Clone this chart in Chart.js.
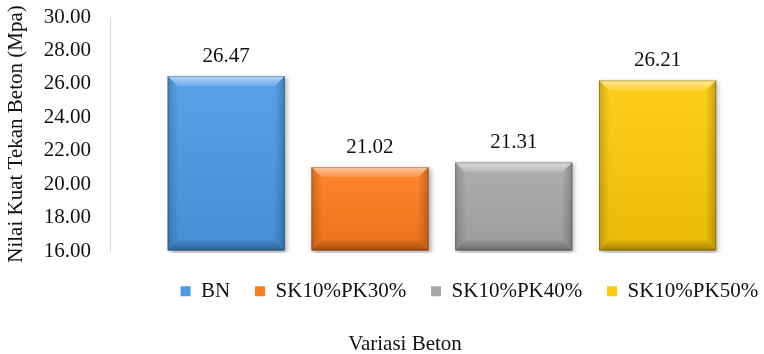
<!DOCTYPE html>
<html>
<head>
<meta charset="utf-8">
<script src="https://cdn.jsdelivr.net/npm/chart.js@4/dist/chart.umd.min.js"></script>
<style>
  html, body { margin: 0; padding: 0; background: #ffffff; }
  #wrap { width: 764px; height: 354px; position: relative; }
</style>
</head>
<body>
<div id="wrap"><canvas id="chart"></canvas></div>
<script>
// Compressive strength per concrete mix (MPa)
const categories = ['BN', 'SK10%PK30%', 'SK10%PK40%', 'SK10%PK50%'];
const strengths = [26.47, 21.02, 21.31, 26.21];
const yTickValues = [16, 18, 20, 22, 24, 26, 28, 30];
const yTitle = 'Nilai Kuat Tekan Beton (Mpa)';
const xTitle = 'Variasi Beton';

const palette = ['#4a9be6', '#ff7b1c', '#a8a8a8', '#ffca08'];
const FONT = 'Liberation Serif';
const TEXT = '#111111';
const Y_MIN = yTickValues[0];
const Y_MAX = yTickValues[yTickValues.length - 1];

// one dataset per mix so each gets its own legend entry
const datasets = categories.map((name, i) => ({
  label: name,
  data: [{ x: i, y: strengths[i] }],
  backgroundColor: palette[i],
  borderWidth: 0,
  base: Y_MIN,
  clip: { left: false, top: false, right: false, bottom: 2 }
}));

// bevelled bar faces with a soft drop shadow
const bevelBars = {
  id: 'bevelBars',
  beforeDatasetDraw(chart) {
    const ctx = chart.ctx;
    ctx.save();
    ctx.shadowColor = 'rgba(0,0,0,0.35)';
    ctx.shadowBlur = 5;
    ctx.shadowOffsetX = 2;
    ctx.shadowOffsetY = 2;
  },
  afterDatasetDraw(chart, args) {
    const ctx = chart.ctx;
    ctx.restore();
    const poly = (pts, fill) => {
      ctx.beginPath();
      ctx.moveTo(pts[0][0], pts[0][1]);
      for (let k = 1; k < pts.length; k++) ctx.lineTo(pts[k][0], pts[k][1]);
      ctx.closePath();
      ctx.fillStyle = fill;
      ctx.fill();
    };
    args.meta.data.forEach(bar => {
      const p = bar.getProps(['x', 'y', 'base', 'width'], true);
      const l = p.x - p.width / 2, r = p.x + p.width / 2;
      const t = Math.min(p.y, p.base), b = Math.max(p.y, p.base);
      const d = 10;
      ctx.save();
      const body = ctx.createLinearGradient(0, t, 0, b);
      body.addColorStop(0, 'rgba(255,255,255,0.08)');
      body.addColorStop(1, 'rgba(0,0,0,0.08)');
      ctx.fillStyle = body;
      ctx.fillRect(l, t, r - l, b - t);

      const top = ctx.createLinearGradient(0, t, 0, t + d);
      top.addColorStop(0, 'rgba(255,255,255,0.55)');
      top.addColorStop(1, 'rgba(255,255,255,0.12)');
      poly([[l, t], [r, t], [r - d, t + d], [l + d, t + d]], top);

      const bot = ctx.createLinearGradient(0, b - d, 0, b);
      bot.addColorStop(0, 'rgba(0,0,0,0.06)');
      bot.addColorStop(1, 'rgba(0,0,0,0.30)');
      poly([[l, b], [r, b], [r - d, b - d], [l + d, b - d]], bot);

      const left = ctx.createLinearGradient(l, 0, l + d, 0);
      left.addColorStop(0, 'rgba(0,0,0,0.18)');
      left.addColorStop(1, 'rgba(0,0,0,0.02)');
      poly([[l, t], [l + d, t + d], [l + d, b - d], [l, b]], left);

      const right = ctx.createLinearGradient(r - d, 0, r, 0);
      right.addColorStop(0, 'rgba(0,0,0,0.02)');
      right.addColorStop(1, 'rgba(0,0,0,0.22)');
      poly([[r, t], [r - d, t + d], [r - d, b - d], [r, b]], right);

      ctx.strokeStyle = 'rgba(0,0,0,0.25)';
      ctx.lineWidth = 1;
      ctx.strokeRect(l + 0.5, t + 0.5, r - l - 1, b - t - 1);
      ctx.restore();
    });
  }
};

// value printed above each bar
const valueLabels = {
  id: 'valueLabels',
  afterDatasetsDraw(chart) {
    const ctx = chart.ctx;
    ctx.save();
    ctx.font = '21px "' + FONT + '"';
    ctx.fillStyle = TEXT;
    ctx.textAlign = 'center';
    ctx.textBaseline = 'middle';
    chart.data.datasets.forEach((ds, i) => {
      const meta = chart.getDatasetMeta(i);
      meta.data.forEach((bar, j) => {
        ctx.fillText(ds.data[j].y.toFixed(2), bar.x, bar.y - 20);
      });
    });
    ctx.restore();
  }
};

new Chart(document.getElementById('chart'), {
  type: 'bar',
  data: { datasets },
  plugins: [bevelBars, valueLabels],
  options: {
    responsive: true,
    maintainAspectRatio: false,
    animation: false,
    grouped: false,
    categoryPercentage: 1,
    barPercentage: 0.815,
    layout: { padding: { top: 17, left: 0, right: -19, bottom: 0 } },
    scales: {
      x: {
        type: 'linear',
        min: -0.808,
        max: 3.295,
        offset: false,
        weight: 1500,
        grid: { display: false, drawTicks: false },
        border: { display: false },
        ticks: { display: false, stepSize: 1, includeBounds: false },
        title: {
          display: true,
          text: xTitle,
          color: TEXT,
          font: { family: FONT, size: 21 },
          padding: { top: 20, bottom: -3 }
        }
      },
      y: {
        min: Y_MIN,
        max: Y_MAX,
        afterBuildTicks(scale) { scale.ticks = yTickValues.map(v => ({ value: v })); },
        afterFit(scale) { scale.width = 110; },
        grid: {
          display: true,
          drawOnChartArea: false,
          drawTicks: true,
          tickLength: 17,
          color: 'rgba(0,0,0,0)'
        },
        border: { display: true, color: '#d9d9d9', width: 1 },
        ticks: {
          padding: 2,
          color: TEXT,
          font: { family: FONT, size: 21 },
          callback: v => Number(v).toFixed(2)
        },
        title: {
          display: true,
          text: yTitle,
          color: TEXT,
          font: { family: FONT, size: 21 },
          padding: { top: 4, bottom: 0 }
        }
      },
      yRight: {
        position: 'right',
        display: true,
        afterFit(scale) { scale.width = 83; },
        grid: { display: false, drawTicks: false },
        border: { display: false },
        ticks: { display: false }
      }
    },
    plugins: {
      legend: {
        position: 'bottom',
        align: 'end',
        title: {
          display: true,
          text: '',
          font: { size: 1, lineHeight: 1 },
          padding: { top: 4, bottom: 0 }
        },
        labels: {
          boxWidth: 10,
          boxHeight: 10,
          padding: 24.8,
          color: TEXT,
          font: { family: FONT, size: 21 }
        }
      },
      tooltip: { enabled: false }
    }
  }
});
</script>
</body>
</html>
